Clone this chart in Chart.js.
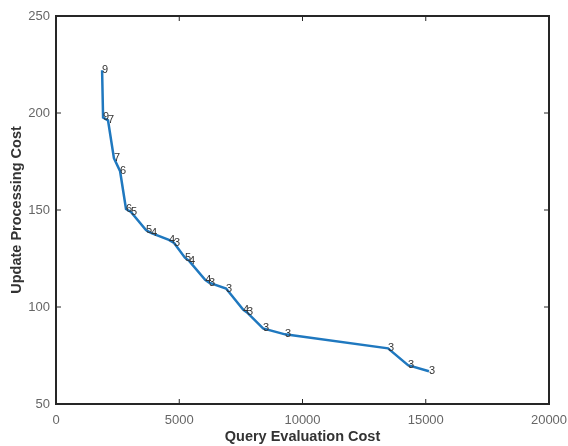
<!DOCTYPE html>
<html>
<head>
<meta charset="utf-8">
<script src="https://cdn.jsdelivr.net/npm/chart.js@4/dist/chart.umd.min.js"></script>
<style>
  html, body { margin: 0; padding: 0; background: #fff; }
  #wrap { width: 568px; height: 446px; }
</style>
</head>
<body>
<div id="wrap"><canvas id="tradeoff"></canvas></div>
<script>
// query evaluation cost (x) vs update processing cost (y), one label per point
const queryCost = [1870, 1910, 2110, 2350, 2600, 2840, 3040, 3650, 3850, 4580, 4790,
                   5230, 5400, 6050, 6210, 6900, 7590, 7750, 8400, 9290, 13470, 14280, 15130];
const updateCost = [222, 197.7, 196.2, 176.7, 170, 150.5, 149, 139.7, 138.2, 134.6, 133,
                    125.4, 123.8, 114, 112.6, 109.5, 98.7, 97.2, 89, 85.9, 78.7, 70, 66.9];
const pointLabels = ['9', '9', '7', '7', '6', '6', '5', '5', '4', '4', '3',
                     '5', '4', '4', '3', '3', '4', '3', '3', '3', '3', '3', '3'];
const xTicks = [0, 5000, 10000, 15000, 20000];
const yTicks = [50, 100, 150, 200, 250];

const points = queryCost.map((x, i) => ({ x: x, y: updateCost[i] }));

// box around the plot + inward tick marks, like a matlab axes
const boxPlugin = {
  id: 'box',
  afterDatasetsDraw(chart) {
    const { ctx, chartArea: a, scales } = chart;
    ctx.save();
    ctx.strokeStyle = '#262626';
    ctx.lineWidth = 1;
    xTicks.forEach(v => {
      const px = scales.x.getPixelForValue(v);
      ctx.beginPath();
      ctx.moveTo(px, a.bottom); ctx.lineTo(px, a.bottom - 5);
      ctx.moveTo(px, a.top); ctx.lineTo(px, a.top + 5);
      ctx.stroke();
    });
    yTicks.forEach(v => {
      const py = scales.y.getPixelForValue(v);
      ctx.beginPath();
      ctx.moveTo(a.left, py); ctx.lineTo(a.left + 5, py);
      ctx.moveTo(a.right, py); ctx.lineTo(a.right - 5, py);
      ctx.stroke();
    });
    ctx.lineWidth = 2;
    ctx.strokeRect(a.left, a.top, a.right - a.left, a.bottom - a.top);
    ctx.restore();
  }
};

// text next to each vertex
const labelPlugin = {
  id: 'pointText',
  afterDatasetsDraw(chart) {
    const { ctx } = chart;
    const meta = chart.getDatasetMeta(0);
    ctx.save();
    ctx.font = '11px "Liberation Sans", Arial, sans-serif';
    ctx.fillStyle = '#333';
    ctx.textAlign = 'left';
    ctx.textBaseline = 'middle';
    meta.data.forEach((pt, i) => {
      ctx.fillText(pointLabels[i], pt.x, pt.y);
    });
    ctx.restore();
  }
};

new Chart(document.getElementById('tradeoff'), {
  type: 'scatter',
  data: {
    datasets: [{
      data: points,
      showLine: true,
      borderColor: '#1f78bf',
      borderWidth: 2.5,
      pointRadius: 0,
      tension: 0
    }]
  },
  options: {
    responsive: true,
    maintainAspectRatio: false,
    animation: false,
    layout: { padding: { top: 16, right: 19, left: 0, bottom: 0 } },
    plugins: { legend: { display: false }, tooltip: { enabled: false } },
    scales: {
      x: {
        type: 'linear',
        min: 0, max: 20000,
        afterBuildTicks(scale) { scale.ticks = xTicks.map(v => ({ value: v })); },
        afterFit(scale) {
          scale.height = 42;
          scale.paddingLeft = 0;
          scale.paddingRight = 0;
        },
        grid: { display: false, drawTicks: false },
        border: { display: false },
        ticks: {
          color: '#666',
          padding: 9,
          maxRotation: 0,
          font: { family: '"Liberation Sans", Arial, sans-serif', size: 13 },
          callback: v => String(v)
        },
        title: {
          display: true,
          text: 'Query Evaluation Cost',
          color: '#333',
          padding: { top: 0, bottom: 0 },
          font: { family: '"Liberation Sans", Arial, sans-serif', size: 14.5, weight: 'bold' }
        }
      },
      y: {
        type: 'linear',
        min: 50, max: 250,
        afterBuildTicks(scale) { scale.ticks = yTicks.map(v => ({ value: v })); },
        afterFit(scale) { scale.width = 56; },
        grid: { display: false, drawTicks: false },
        border: { display: false },
        ticks: {
          color: '#666',
          padding: 6,
          font: { family: '"Liberation Sans", Arial, sans-serif', size: 13 }
        },
        title: {
          display: true,
          text: 'Update Processing Cost',
          color: '#333',
          padding: { top: 8, bottom: 0 },
          font: { family: '"Liberation Sans", Arial, sans-serif', size: 14.5, weight: 'bold' }
        }
      }
    }
  },
  plugins: [boxPlugin, labelPlugin]
});
</script>
</body>
</html>
